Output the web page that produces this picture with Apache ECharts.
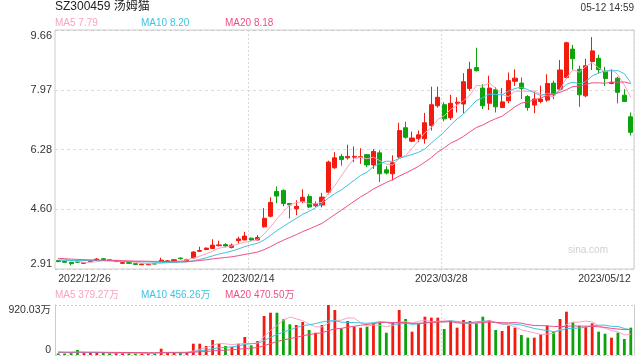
<!DOCTYPE html>
<html><head><meta charset="utf-8">
<script src="https://cdn.jsdelivr.net/npm/echarts@6/dist/echarts.min.js"></script>
<style>html,body{margin:0;padding:0;background:#fff}#c{width:640px;height:360px}</style>
</head><body><div id="c"></div>
<script>
const dates = ['2022/12/26','2022/12/27','2022/12/28','2022/12/29','2022/12/30',
'2023/01/03','2023/01/04','2023/01/05','2023/01/06','2023/01/09','2023/01/10','2023/01/11','2023/01/12','2023/01/13','2023/01/16','2023/01/17','2023/01/18','2023/01/19','2023/01/20','2023/01/30','2023/01/31',
'2023/02/01','2023/02/02','2023/02/03','2023/02/06','2023/02/07','2023/02/08','2023/02/09','2023/02/10','2023/02/13','2023/02/14','2023/02/15','2023/02/16','2023/02/17','2023/02/20','2023/02/21','2023/02/22','2023/02/23','2023/02/24','2023/02/27','2023/02/28',
'2023/03/01','2023/03/02','2023/03/03','2023/03/06','2023/03/07','2023/03/08','2023/03/09','2023/03/10','2023/03/13','2023/03/14','2023/03/15','2023/03/16','2023/03/17','2023/03/20','2023/03/21','2023/03/22','2023/03/23','2023/03/24','2023/03/27','2023/03/28','2023/03/29','2023/03/30','2023/03/31',
'2023/04/03','2023/04/04','2023/04/06','2023/04/07','2023/04/10','2023/04/11','2023/04/12','2023/04/13','2023/04/14','2023/04/17','2023/04/18','2023/04/19','2023/04/20','2023/04/21','2023/04/24','2023/04/25','2023/04/26','2023/04/27','2023/04/28',
'2023/05/04','2023/05/05','2023/05/08','2023/05/09','2023/05/10','2023/05/11','2023/05/12'];

const openP = [3.15,3.13,3.10,3.12,3.07,3.12,3.16,3.20,3.17,3.12,
3.07,3.09,3.06,3.03,3.03,3.06,3.12,3.12,3.14,3.22,
3.14,3.22,3.41,3.46,3.49,3.57,3.60,3.52,3.71,3.73,
3.78,3.73,4.10,4.40,5.10,5.13,4.76,4.61,4.82,4.96,
4.70,4.72,5.08,5.77,6.09,6.05,6.07,6.06,6.14,5.85,
6.19,5.71,5.60,6.07,6.90,6.52,6.59,6.59,6.96,7.52,
7.55,7.18,7.59,7.57,8.01,8.60,8.02,7.59,7.97,7.47,
7.66,8.21,8.16,7.78,7.54,7.64,7.68,8.16,7.99,8.32,
9.12,8.55,7.80,8.77,8.86,8.49,8.15,8.30,7.82,7.21];
const closeP = [3.12,3.10,3.06,3.10,3.09,3.15,3.19,3.18,3.15,3.13,
3.09,3.07,3.04,3.05,3.05,3.05,3.16,3.14,3.17,3.20,
3.17,3.39,3.43,3.50,3.585,3.59,3.56,3.585,3.76,3.84,
3.73,3.80,4.34,4.79,4.97,4.76,4.72,4.68,4.935,4.66,
4.76,4.94,5.93,6.05,6.00,6.09,6.09,6.08,5.85,6.23,
5.60,5.62,5.91,6.82,6.63,6.61,6.70,7.04,7.55,7.76,
7.15,7.59,7.62,8.20,8.55,8.51,7.52,8.02,7.49,7.63,
8.23,8.30,8.01,7.47,7.71,7.71,8.15,7.83,8.53,9.30,
8.85,7.83,8.65,9.07,8.54,8.29,8.18,7.90,7.64,6.77];
const lowP = [3.10,3.08,3.01,3.08,3.06,3.10,3.14,3.16,3.13,3.11,
3.05,3.05,3.02,3.02,3.02,3.03,3.11,3.11,3.13,3.18,
3.13,3.21,3.39,3.44,3.48,3.55,3.52,3.49,3.63,3.72,
3.71,3.72,4.08,4.37,4.77,4.68,4.34,4.43,4.77,4.63,
4.66,4.65,5.02,5.74,5.83,6.00,5.93,5.88,5.79,5.74,
5.37,5.58,5.41,6.04,6.59,6.49,6.49,6.45,6.82,7.47,
7.08,7.12,7.33,7.31,7.94,8.49,7.43,7.40,7.33,7.46,
7.59,8.08,7.71,7.38,7.31,7.59,7.63,7.71,7.94,8.28,
8.54,7.49,7.76,8.53,8.43,8.08,8.13,7.59,7.63,6.68];
const highP = [3.17,3.15,3.11,3.17,3.11,3.17,3.22,3.22,3.18,3.15,
3.11,3.10,3.07,3.06,3.06,3.07,3.23,3.16,3.19,3.23,
3.20,3.41,3.54,3.52,3.75,3.71,3.64,3.63,3.82,3.96,
3.80,3.87,4.63,4.935,5.24,5.16,4.77,4.85,5.16,5.02,
4.82,5.06,5.97,6.21,6.16,6.42,6.37,6.32,6.16,6.30,
6.26,5.81,6.12,7.04,7.07,6.79,6.82,7.32,8.06,8.06,
7.62,7.83,7.76,8.44,8.76,9.16,8.13,8.37,8.04,8.02,
8.46,8.55,8.32,7.82,7.92,8.09,8.41,8.23,8.81,9.33,
9.24,8.65,8.85,9.46,8.96,8.62,8.55,8.34,7.99,7.33];
// closes of the 19 sessions before the first shown day (for the moving averages)
const preClose = [3.30,3.28,3.25,3.27,3.24,3.26,3.29,3.25,3.23,3.23,3.15,3.12,3.10,3.11,3.12,3.18,3.22,3.24,3.24];

// volume in 万
const volume = [30,28,42,92,35,38,40,36,34,38,
40,36,30,32,30,30,116,40,38,36,
42,208,208,166,276,208,166,147,208,331,
178,258,718,778,778,657,565,552,607,460,
410,552,920.03,828,491,626,521,503,521,583,
595,410,595,828,662,429,583,705,687,687,
478,626,503,644,626,583,705,644,460,442,
540,503,368,319,319,380,540,429,662,797,
601,540,521,583,429,392,319,410,294,503];
const preVolume = [52,60,55,48,62,58,50,54,57,61,49,53,56,59,51,55,58,52,50];

const priceTicks = {min: 2.91, max: 9.66, step: 1.6875};
const volTicks = {min: 0, max: 920.03};
const xLabelIdx = [0, 30, 60, 89];
const xSplitIdx = [30, 60];
const titleText = 'SZ300459 汤姆猫';
const timeText = '05-12 14:59';
const maLegend = ['MA5 7.79', 'MA10 8.20', 'MA20 8.18'];
const volLegend = ['MA5 379.27万', 'MA10 456.26万', 'MA20 470.50万'];

const UP = '#f31b10', DOWN = '#0ca30c';
const MA_COLORS = ['#f8a3c3', '#3fc3df', '#ee4f87'];
const FONT = 'Liberation Sans, Arial, "Noto Sans CJK SC", sans-serif';

function movingAvg(n, arr, pre) {
  const all = pre.concat(arr);
  return arr.map((_, i) => {
    let s = 0;
    for (let k = 0; k < n; k++) s += all[pre.length + i - k];
    return +(s / n).toFixed(4);
  });
}

const kData = dates.map((_, i) => [openP[i], closeP[i], lowP[i], highP[i]]);
const volData = volume.map((v, i) => ({
  value: v,
  itemStyle: {color: closeP[i] >= openP[i] ? UP : DOWN}
}));

const chart = echarts.init(document.getElementById('c'), null, {renderer: 'canvas'});

const maPeriods = [5, 10, 20];
const priceMA = maPeriods.map((n, k) => ({
  type: 'line', xAxisIndex: 0, yAxisIndex: 0, data: movingAvg(n, closeP, preClose),
  symbol: 'none', smooth: false, silent: true,
  lineStyle: {width: 1, color: MA_COLORS[k]}, z: 3
}));
const volMA = maPeriods.map((n, k) => ({
  type: 'line', xAxisIndex: 1, yAxisIndex: 1, data: movingAvg(n, volume, preVolume),
  symbol: 'none', smooth: false, silent: true,
  lineStyle: {width: 1, color: MA_COLORS[k]}, z: 3
}));

function legendTexts(labels, y) {
  const xs = [55, 141, 225];
  return labels.map((t, k) => ({
    type: 'text', left: xs[k], top: y,
    style: {text: t, fill: MA_COLORS[k], font: '10px ' + FONT}
  }));
}

const option = {
  animation: false,
  backgroundColor: '#fff',
  textStyle: {fontFamily: FONT},
  grid: [
    {left: 55, right: 6, top: 30, height: 239, show: true, borderColor: '#cccccc', borderWidth: 1, backgroundColor: 'transparent'},
    {left: 55, right: 6, top: 305, height: 50}
  ],
  xAxis: [
    {
      type: 'category', gridIndex: 0, data: dates, boundaryGap: true,
      axisLine: {show: false}, axisTick: {show: false},
      axisLabel: {
        interval: (i) => xLabelIdx.includes(i),
        color: '#333', fontSize: 10.5, margin: 5,
        alignMinLabel: 'left', alignMaxLabel: 'right',
        formatter: (v, i) => (xSplitIdx.includes(i) ? '{m|' + v + '}' : v),
        rich: {m: {padding: [0, 6, 0, 0], color: '#333', fontSize: 10.5}}
      },
      splitLine: {show: true, interval: (i) => xSplitIdx.includes(i), lineStyle: {color: '#d8d8d8', type: [2, 2]}}
    },
    {
      type: 'category', gridIndex: 1, data: dates, boundaryGap: true,
      axisLine: {show: false}, axisTick: {show: false}, axisLabel: {show: false},
      splitLine: {show: true, interval: (i) => xSplitIdx.includes(i), lineStyle: {color: '#d8d8d8', type: [2, 2]}}
    }
  ],
  yAxis: [
    {
      type: 'value', gridIndex: 0, scale: true,
      min: priceTicks.min, max: priceTicks.max, interval: priceTicks.step,
      axisLine: {show: false}, axisTick: {show: false},
      axisLabel: {
        color: '#333', fontSize: 11, margin: 3,
        formatter: (v) => (Math.round(v * 100 - 1e-6) / 100).toFixed(2),
        verticalAlignMinLabel: 'bottom', verticalAlignMaxLabel: 'top'
      },
      splitLine: {show: true, lineStyle: {color: ['#cccccc', '#dcdcdc', '#dcdcdc', '#dcdcdc', '#cccccc'], type: [3, 3]}}
    },
    {
      type: 'value', gridIndex: 1,
      min: volTicks.min, max: volTicks.max, interval: volTicks.max - volTicks.min,
      axisLine: {show: true, lineStyle: {color: '#cccccc'}}, axisTick: {show: false},
      axisLabel: {
        color: '#333', fontSize: 10.5, margin: 4,
        formatter: (v) => (v === 0 ? '0' : v.toFixed(2) + '万'),
        verticalAlignMinLabel: 'bottom', verticalAlignMaxLabel: 'top'
      },
      splitLine: {show: true, lineStyle: {color: '#cccccc', type: [2, 2]}}
    },
    {
      type: 'value', gridIndex: 1, position: 'right',
      axisLine: {show: true, onZero: false, lineStyle: {color: '#cccccc'}},
      axisTick: {show: false}, axisLabel: {show: false}, splitLine: {show: false}
    }
  ],
  series: [
    {
      type: 'candlestick', xAxisIndex: 0, yAxisIndex: 0, data: kData,
      barWidth: 4.6,
      itemStyle: {color: UP, color0: DOWN, borderColor: UP, borderColor0: DOWN, borderWidth: 1},
      z: 2
    },
    ...priceMA,
    {
      type: 'bar', xAxisIndex: 1, yAxisIndex: 1, data: volData, barWidth: 2.8, z: 2
    },
    ...volMA
  ],
  graphic: [
    {type: 'text', left: 55, top: 1, style: {text: titleText, fill: '#222', font: '12px ' + FONT}},
    {type: 'text', right: 6, top: 3, style: {text: timeText, fill: '#333', font: '10px ' + FONT}},
    {type: 'text', left: 568, top: 245, style: {text: 'sina.com', fill: '#d0d0d0', font: '10px ' + FONT}},
    ...legendTexts(maLegend, 18),
    ...legendTexts(volLegend, 290)
  ]
};
chart.setOption(option);
</script>
</body></html>
